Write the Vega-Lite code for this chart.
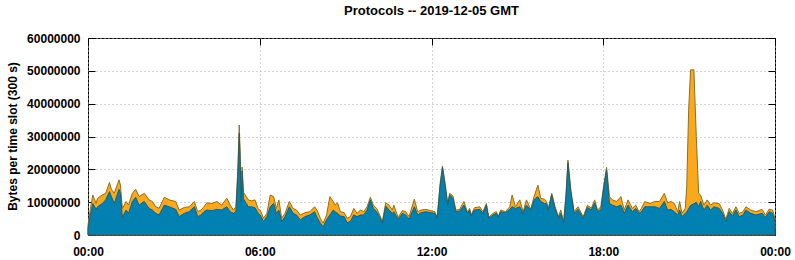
{
  "$schema": "https://vega.github.io/schema/vega-lite/v6.json",
  "width": 687,
  "height": 197,
  "autosize": {"type": "none"},
  "padding": {"left": 88, "top": 38, "right": 20, "bottom": 25},
  "background": "white",
  "title": {"text": "Protocols -- 2019-12-05 GMT", "font": "Liberation Sans", "fontSize": 13, "fontWeight": "bold", "color": "black", "offset": 14, "anchor": "middle"},
  "config": {
    "view": {"stroke": "black", "strokeWidth": 1},
    "axis": {
      "labelFont": "Liberation Sans", "labelFontSize": 12, "labelFontWeight": "bold", "labelColor": "black",
      "titleFont": "Liberation Sans", "titleFontSize": 12, "titleFontWeight": "bold", "titleColor": "black",
      "domain": false, "tickColor": "black", "tickSize": -7, "tickWidth": 1, "labelFlush": false, "labelOverlap": false,
      "gridColor": "#a8a8a8", "gridDash": [1, 3], "gridWidth": 1
    }
  },
  "data": {"values": [
    {"min": 0, "total": 3000000, "blue": 2000000},
    {"min": 5, "total": 8000000, "blue": 6000000},
    {"min": 10, "total": 12200000, "blue": 9600000},
    {"min": 17, "total": 9600000, "blue": 7800000},
    {"min": 20, "total": 11200000, "blue": 8600000},
    {"min": 30, "total": 12200000, "blue": 9600000},
    {"min": 37, "total": 12700000, "blue": 10700000},
    {"min": 45, "total": 16000000, "blue": 13200000},
    {"min": 49, "total": 13900000, "blue": 11700000},
    {"min": 55, "total": 12700000, "blue": 9600000},
    {"min": 65, "total": 16800000, "blue": 13900000},
    {"min": 68, "total": 15200000, "blue": 12700000},
    {"min": 72, "total": 8100000, "blue": 5400000},
    {"min": 80, "total": 10200000, "blue": 7600000},
    {"min": 85, "total": 9100000, "blue": 6600000},
    {"min": 93, "total": 12700000, "blue": 10200000},
    {"min": 100, "total": 13900000, "blue": 11500000},
    {"min": 107, "total": 11700000, "blue": 9100000},
    {"min": 118, "total": 12700000, "blue": 10200000},
    {"min": 128, "total": 10700000, "blue": 8100000},
    {"min": 135, "total": 10200000, "blue": 7600000},
    {"min": 142, "total": 8600000, "blue": 6600000},
    {"min": 149, "total": 8100000, "blue": 6100000},
    {"min": 160, "total": 11500000, "blue": 9100000},
    {"min": 170, "total": 10700000, "blue": 8600000},
    {"min": 184, "total": 10200000, "blue": 7800000},
    {"min": 191, "total": 7600000, "blue": 5600000},
    {"min": 202, "total": 8400000, "blue": 6600000},
    {"min": 212, "total": 8600000, "blue": 7100000},
    {"min": 223, "total": 10200000, "blue": 8600000},
    {"min": 230, "total": 7100000, "blue": 5600000},
    {"min": 237, "total": 7600000, "blue": 6100000},
    {"min": 243, "total": 8600000, "blue": 7100000},
    {"min": 249, "total": 9800000, "blue": 7600000},
    {"min": 260, "total": 9600000, "blue": 7400000},
    {"min": 270, "total": 10200000, "blue": 7800000},
    {"min": 280, "total": 9100000, "blue": 7600000},
    {"min": 291, "total": 11200000, "blue": 8600000},
    {"min": 298, "total": 9100000, "blue": 7100000},
    {"min": 305, "total": 7600000, "blue": 6600000},
    {"min": 310, "total": 8600000, "blue": 7100000},
    {"min": 314, "total": 20000000, "blue": 18000000},
    {"min": 317, "total": 33500000, "blue": 31000000},
    {"min": 319, "total": 25000000, "blue": 22000000},
    {"min": 321, "total": 11500000, "blue": 10000000},
    {"min": 323, "total": 20700000, "blue": 19500000},
    {"min": 326, "total": 13000000, "blue": 11000000},
    {"min": 336, "total": 10700000, "blue": 8600000},
    {"min": 343, "total": 10400000, "blue": 8600000},
    {"min": 350, "total": 10700000, "blue": 8300000},
    {"min": 357, "total": 7800000, "blue": 6600000},
    {"min": 361, "total": 7600000, "blue": 6100000},
    {"min": 368, "total": 5100000, "blue": 4100000},
    {"min": 375, "total": 6600000, "blue": 5600000},
    {"min": 382, "total": 12200000, "blue": 8600000},
    {"min": 389, "total": 11700000, "blue": 9600000},
    {"min": 395, "total": 8100000, "blue": 6600000},
    {"min": 400, "total": 10700000, "blue": 7600000},
    {"min": 406, "total": 5100000, "blue": 4100000},
    {"min": 413, "total": 6600000, "blue": 5600000},
    {"min": 422, "total": 10200000, "blue": 8600000},
    {"min": 430, "total": 8100000, "blue": 6600000},
    {"min": 437, "total": 7600000, "blue": 6100000},
    {"min": 445, "total": 6100000, "blue": 4600000},
    {"min": 455, "total": 6800000, "blue": 5600000},
    {"min": 465, "total": 7100000, "blue": 6100000},
    {"min": 475, "total": 8600000, "blue": 7100000},
    {"min": 480, "total": 7600000, "blue": 5400000},
    {"min": 487, "total": 5100000, "blue": 3600000},
    {"min": 493, "total": 3600000, "blue": 2500000},
    {"min": 500, "total": 6100000, "blue": 4600000},
    {"min": 507, "total": 11700000, "blue": 6100000},
    {"min": 514, "total": 10200000, "blue": 7600000},
    {"min": 518, "total": 9100000, "blue": 7100000},
    {"min": 523, "total": 9800000, "blue": 6600000},
    {"min": 529, "total": 7100000, "blue": 5800000},
    {"min": 537, "total": 6800000, "blue": 5600000},
    {"min": 543, "total": 5100000, "blue": 3800000},
    {"min": 550, "total": 5600000, "blue": 4100000},
    {"min": 557, "total": 8100000, "blue": 6100000},
    {"min": 564, "total": 6600000, "blue": 5600000},
    {"min": 571, "total": 7600000, "blue": 6100000},
    {"min": 578, "total": 7100000, "blue": 6100000},
    {"min": 585, "total": 8600000, "blue": 7600000},
    {"min": 592, "total": 11500000, "blue": 10700000},
    {"min": 598, "total": 9100000, "blue": 8100000},
    {"min": 605, "total": 8100000, "blue": 7100000},
    {"min": 610, "total": 6600000, "blue": 5800000},
    {"min": 617, "total": 4100000, "blue": 3600000},
    {"min": 624, "total": 9800000, "blue": 8800000},
    {"min": 631, "total": 9100000, "blue": 7600000},
    {"min": 638, "total": 7600000, "blue": 6600000},
    {"min": 641, "total": 9100000, "blue": 7100000},
    {"min": 650, "total": 5400000, "blue": 4800000},
    {"min": 659, "total": 7400000, "blue": 6600000},
    {"min": 666, "total": 7100000, "blue": 6100000},
    {"min": 673, "total": 5600000, "blue": 4800000},
    {"min": 684, "total": 10900000, "blue": 8600000},
    {"min": 691, "total": 7100000, "blue": 6100000},
    {"min": 698, "total": 7600000, "blue": 6800000},
    {"min": 708, "total": 7800000, "blue": 7100000},
    {"min": 719, "total": 7400000, "blue": 6800000},
    {"min": 727, "total": 7100000, "blue": 6600000},
    {"min": 732, "total": 5400000, "blue": 5100000},
    {"min": 738, "total": 15700000, "blue": 14700000},
    {"min": 743, "total": 21000000, "blue": 20600000},
    {"min": 748, "total": 16200000, "blue": 15700000},
    {"min": 754, "total": 9600000, "blue": 9100000},
    {"min": 758, "total": 12700000, "blue": 12200000},
    {"min": 765, "total": 11900000, "blue": 11200000},
    {"min": 771, "total": 7600000, "blue": 7100000},
    {"min": 779, "total": 7800000, "blue": 7300000},
    {"min": 788, "total": 10200000, "blue": 9100000},
    {"min": 795, "total": 7100000, "blue": 6600000},
    {"min": 800, "total": 8100000, "blue": 7600000},
    {"min": 803, "total": 6100000, "blue": 5800000},
    {"min": 810, "total": 8300000, "blue": 7600000},
    {"min": 821, "total": 8600000, "blue": 7800000},
    {"min": 828, "total": 7100000, "blue": 6600000},
    {"min": 835, "total": 9600000, "blue": 9100000},
    {"min": 840, "total": 5400000, "blue": 5100000},
    {"min": 849, "total": 6600000, "blue": 6100000},
    {"min": 856, "total": 7100000, "blue": 6600000},
    {"min": 860, "total": 5600000, "blue": 5400000},
    {"min": 865, "total": 7600000, "blue": 7100000},
    {"min": 875, "total": 7100000, "blue": 6800000},
    {"min": 884, "total": 8600000, "blue": 7800000},
    {"min": 889, "total": 12200000, "blue": 8600000},
    {"min": 896, "total": 8600000, "blue": 8100000},
    {"min": 905, "total": 10700000, "blue": 8600000},
    {"min": 912, "total": 7100000, "blue": 6600000},
    {"min": 919, "total": 10700000, "blue": 9100000},
    {"min": 928, "total": 7800000, "blue": 7600000},
    {"min": 935, "total": 11700000, "blue": 10700000},
    {"min": 943, "total": 15200000, "blue": 11700000},
    {"min": 949, "total": 11200000, "blue": 10200000},
    {"min": 957, "total": 10900000, "blue": 9600000},
    {"min": 961, "total": 10200000, "blue": 9600000},
    {"min": 965, "total": 8100000, "blue": 7600000},
    {"min": 972, "total": 12700000, "blue": 12200000},
    {"min": 979, "total": 8600000, "blue": 8100000},
    {"min": 986, "total": 5600000, "blue": 5100000},
    {"min": 991, "total": 7600000, "blue": 6600000},
    {"min": 997, "total": 4100000, "blue": 3600000},
    {"min": 1002, "total": 12700000, "blue": 11700000},
    {"min": 1006, "total": 22800000, "blue": 22000000},
    {"min": 1012, "total": 13700000, "blue": 13200000},
    {"min": 1019, "total": 7100000, "blue": 6600000},
    {"min": 1027, "total": 8600000, "blue": 7800000},
    {"min": 1038, "total": 5600000, "blue": 5100000},
    {"min": 1047, "total": 9100000, "blue": 8400000},
    {"min": 1055, "total": 8100000, "blue": 7600000},
    {"min": 1062, "total": 10700000, "blue": 9800000},
    {"min": 1068, "total": 7600000, "blue": 7100000},
    {"min": 1075, "total": 8600000, "blue": 7800000},
    {"min": 1081, "total": 15200000, "blue": 14200000},
    {"min": 1087, "total": 20600000, "blue": 19800000},
    {"min": 1093, "total": 11700000, "blue": 9600000},
    {"min": 1099, "total": 10700000, "blue": 9100000},
    {"min": 1108, "total": 10200000, "blue": 8600000},
    {"min": 1117, "total": 11700000, "blue": 9100000},
    {"min": 1124, "total": 7600000, "blue": 6600000},
    {"min": 1132, "total": 10700000, "blue": 9100000},
    {"min": 1141, "total": 8100000, "blue": 7100000},
    {"min": 1148, "total": 9100000, "blue": 8100000},
    {"min": 1155, "total": 7100000, "blue": 6600000},
    {"min": 1160, "total": 8100000, "blue": 7100000},
    {"min": 1167, "total": 10200000, "blue": 8600000},
    {"min": 1178, "total": 9600000, "blue": 8600000},
    {"min": 1188, "total": 10200000, "blue": 8600000},
    {"min": 1198, "total": 10200000, "blue": 8100000},
    {"min": 1208, "total": 12700000, "blue": 10200000},
    {"min": 1215, "total": 9800000, "blue": 7600000},
    {"min": 1222, "total": 10200000, "blue": 7800000},
    {"min": 1229, "total": 9600000, "blue": 7100000},
    {"min": 1236, "total": 7100000, "blue": 6100000},
    {"min": 1240, "total": 10200000, "blue": 7600000},
    {"min": 1245, "total": 6600000, "blue": 5600000},
    {"min": 1252, "total": 8100000, "blue": 6600000},
    {"min": 1255, "total": 15000000, "blue": 7000000},
    {"min": 1259, "total": 38000000, "blue": 8000000},
    {"min": 1263, "total": 50300000, "blue": 9000000},
    {"min": 1270, "total": 50300000, "blue": 9500000},
    {"min": 1275, "total": 30000000, "blue": 10000000},
    {"min": 1280, "total": 12700000, "blue": 8600000},
    {"min": 1284, "total": 12200000, "blue": 10200000},
    {"min": 1291, "total": 9100000, "blue": 7600000},
    {"min": 1298, "total": 10700000, "blue": 9100000},
    {"min": 1305, "total": 9100000, "blue": 7600000},
    {"min": 1312, "total": 9800000, "blue": 8600000},
    {"min": 1323, "total": 9600000, "blue": 8100000},
    {"min": 1330, "total": 7600000, "blue": 6600000},
    {"min": 1337, "total": 4800000, "blue": 4100000},
    {"min": 1344, "total": 8100000, "blue": 7100000},
    {"min": 1351, "total": 6600000, "blue": 5800000},
    {"min": 1358, "total": 8600000, "blue": 7600000},
    {"min": 1365, "total": 6600000, "blue": 5600000},
    {"min": 1373, "total": 7100000, "blue": 6100000},
    {"min": 1379, "total": 8600000, "blue": 7600000},
    {"min": 1389, "total": 7600000, "blue": 6600000},
    {"min": 1400, "total": 7100000, "blue": 6100000},
    {"min": 1413, "total": 7800000, "blue": 6600000},
    {"min": 1420, "total": 6100000, "blue": 5400000},
    {"min": 1428, "total": 7900000, "blue": 7100000},
    {"min": 1435, "total": 7600000, "blue": 6600000},
    {"min": 1440, "total": 5100000, "blue": 4100000}
  ]},
  "layer": [
    {
      "mark": {"type": "area", "color": "#fca81d", "stroke": "#8a7028", "strokeWidth": 1},
      "encoding": {
        "x": {"field": "min", "type": "quantitative", "scale": {"domain": [0, 1440], "nice": false, "zero": false},
              "axis": {"values": [0, 360, 720, 1080, 1440], "labelExpr": "(datum.value % 1440 < 600 ? '0' : '') + floor((datum.value % 1440) / 60) + ':00'", "grid": true, "labelPadding": 18, "title": null}},
        "y": {"field": "total", "type": "quantitative", "scale": {"domain": [0, 60000000], "nice": false},
              "axis": {"values": [0, 10000000, 20000000, 30000000, 40000000, 50000000, 60000000], "format": "d", "grid": true, "labelPadding": 15,
                       "title": "Bytes per time slot (300 s)", "titleX": -76, "titleY": 98, "titleAngle": -90, "titleAlign": "center", "titleBaseline": "middle"}}
      }
    },
    {
      "mark": {"type": "area", "color": "#0181b2", "stroke": "#2c5c5c", "strokeWidth": 1},
      "encoding": {
        "x": {"field": "min", "type": "quantitative",
              "axis": {"orient": "top", "values": [0, 360, 720, 1080, 1440], "labels": false, "grid": false, "title": null}},
        "y": {"field": "blue", "type": "quantitative",
              "axis": {"orient": "right", "values": [0, 10000000, 20000000, 30000000, 40000000, 50000000, 60000000], "labels": false, "grid": false, "title": null}}
      }
    }
  ],
  "resolve": {"axis": {"x": "independent", "y": "independent"}}
}
